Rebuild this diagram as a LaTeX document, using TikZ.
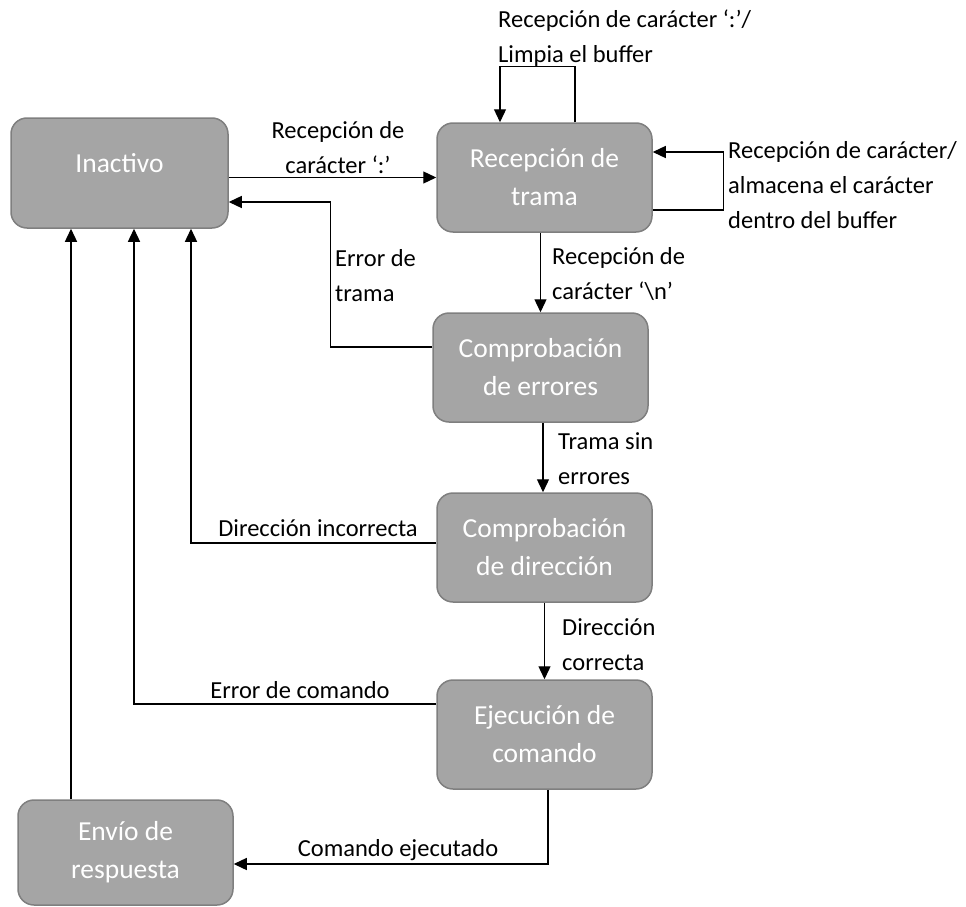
\documentclass[tikz,border=0pt]{standalone}
\usepackage{fontspec}
\setmainfont{Carlito}
\usetikzlibrary{arrows.meta}
\definecolor{boxfill}{HTML}{A5A5A5}
\definecolor{boxborder}{HTML}{7F7F7F}
\begin{document}
\begin{tikzpicture}[x=1pt,y=-1pt,
  state/.style={draw=boxborder,fill=boxfill,line width=1.5pt,rounded corners=16pt,
    minimum width=215pt,minimum height=109pt,text=white,align=center,
    font=\fontsize{27.5}{38}\selectfont,inner sep=0pt},
  lbl/.style={font=\fontsize{24.5}{35}\selectfont,inner sep=0pt,text=black},
  conn/.style={line width=1.3pt,-{Triangle[length=13pt,width=12pt]}},
  plain/.style={line width=1.3pt}]
\useasboundingbox (0,0) rectangle (966,907);

% states
\node[state,minimum width=217pt,minimum height=110pt] (ina) at (119.5,173)
  {\raisebox{10pt}[\height][\depth]{Inactivo}};
\node[state] (rec) at (544.5,177.5) {Recepción de\\trama};
\node[state] (err) at (540.5,367.5) {Comprobación\\de errores};
\node[state] (dir) at (544.5,547.5) {Comprobación\\de dirección};
\node[state] (eje) at (544.5,734.5) {Ejecución de\\comando};
\node[state,minimum height=105pt] (env) at (125.5,852.5) {Envío de\\respuesta};

% transitions
\draw[conn] (ina.east |- rec.west) -- (rec.west);
\draw[conn] ([xshift=30.5pt]rec.north) -- ++(0,-56) -| ([xshift=-44.5pt]rec.north);
\draw[conn] ([yshift=-32.5pt]rec.east) -- ++(71,0) |- ([yshift=25.5pt]rec.east);
\draw[conn] (err.north |- rec.south) -- (err.north);
\draw[conn] ([yshift=20.5pt]err.west) -- ++(-102,0) |- ([yshift=-29pt]ina.east);
\draw[conn] ([xshift=2.5pt]err.south) -- ([xshift=2.5pt]err.south |- dir.north);
\draw[conn] ([yshift=4.5pt]dir.west) -| ([xshift=71.5pt]ina.south);
\draw[conn] (dir.south) -- (eje.north);
\draw[conn] ([yshift=30.5pt]eje.west) -| ([xshift=14.5pt]ina.south);
\draw[conn] ([xshift=3.5pt]eje.south) |- ([yshift=-11.5pt]env.east);
\draw[conn] ([xshift=-54.5pt]env.north) -- ([xshift=-48.5pt]ina.south);

% transition labels
\node[lbl,align=center] (l1) at (338,148) {Recepción de\\carácter ‘:’};
\node[lbl,align=left,anchor=west] (l2) at (498,38.5) {Recepción de carácter ‘:’/\\Limpia el buffer};
\node[lbl,align=left,anchor=west] (l3) at (728,185) {Recepción de carácter/\\almacena el carácter\\dentro del buffer};
\node[lbl,align=left,anchor=west] (l4) at (552,274) {Recepción de\\carácter ‘\textbackslash n’};
\node[lbl,align=left,anchor=west] (l5) at (335,276) {Error de\\trama};
\node[lbl,align=left,anchor=west] (l6) at (558,459) {Trama sin\\errores};
\node[lbl] (l7) at (318,528) {Dirección incorrecta};
\node[lbl,align=left,anchor=west] (l8) at (562,645) {Dirección\\correcta};
\node[lbl] (l9) at (300,690) {Error de comando};
\node[lbl] (l10) at (398,850) {Comando ejecutado};
\end{tikzpicture}
\end{document}
